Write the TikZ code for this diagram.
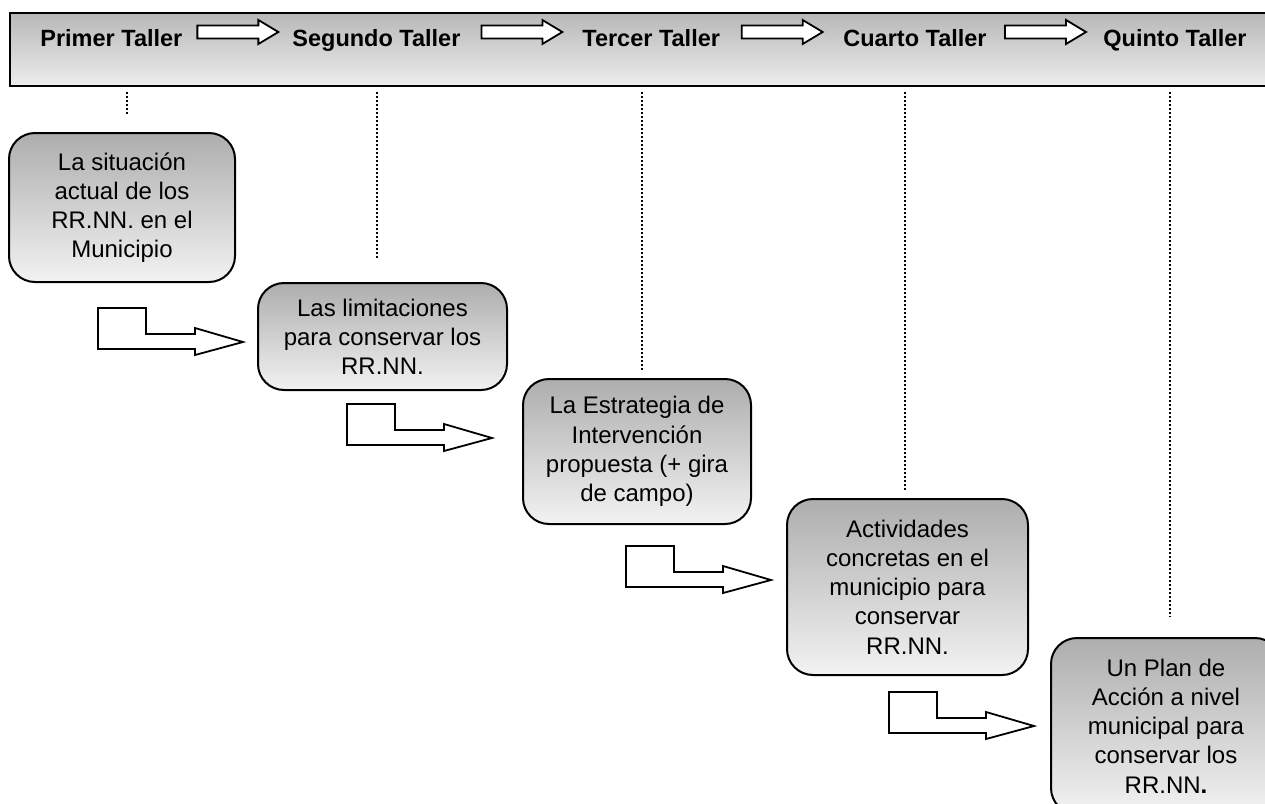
\documentclass[tikz,border=0pt]{standalone}
\usepackage{fontspec}
\setmainfont{Liberation Sans}
\usetikzlibrary{calc}

\tikzset{
  paso/.style={draw, line width=1pt, rounded corners=13pt, top color=black!32, bottom color=black!5, align=center, inner sep=0pt, font=\fontsize{12}{14.6}\selectfont},
  taller/.style={anchor=base west, inner sep=0pt, font=\fontsize{11.75}{14.6}\selectfont\bfseries},
  guia/.style={line width=1.2pt, dash pattern=on 1pt off 1pt},
  hueca/.style={draw, fill=white, line width=0.9pt},
  pics/flecha/.style={code={\draw[hueca] (-40,-6.5) -- (21,-6.5) -- (21,-12) -- (41,0) -- (21,12) -- (21,6.5) -- (-40,6.5) -- cycle;}},
  pics/codo/.style={code={\draw[hueca] (0,0) -- (48,0) -- (48,26) -- (97,26) -- (97,20) -- (145,34) -- (97,47) -- (97,41) -- (0,41) -- cycle;}}
}

\begin{document}
\begin{tikzpicture}[x=0.5pt,y=-0.5pt]
\useasboundingbox (0,0) rectangle (1265,804);
\clip (0,0) rectangle (1265,804);

\node[draw, line width=1pt, top color=black!28, bottom color=black!7, minimum width=645pt, minimum height=36.5pt, inner sep=0pt] (barra) at (655,49.5) {};
\node[taller] (t1) at (40,46) {Primer Taller};
\node[taller] (t2) at (292,46) {Segundo Taller};
\node[taller] (t3) at (582,46) {Tercer Taller};
\node[taller] (t4) at (843,46) {Cuarto Taller};
\node[taller] (t5) at (1103,46) {Quinto Taller};
\foreach \a/\b in {t1/t2, t2/t3, t3/t4, t4/t5}
  \pic[yshift=7pt] at ($(\a.base east)!0.5!(\b.base west)$) {flecha};

\foreach \x/\y in {127/115, 377/260, 642/372, 905/492, 1170/617}
  \draw[guia] (\x,92) -- (\x,\y);

\node[paso, minimum width=113pt, minimum height=74.5pt] (p1) at (122,207.5) {La situación\\actual de los\\RR.NN. en el\\Municipio};
\node[paso, minimum width=124.5pt, minimum height=53.5pt] (p2) at (382.5,336.5) {Las limitaciones\\para conservar los\\RR.NN.};
\node[paso, minimum width=114pt, minimum height=72.5pt] (p3) at (637,451.5) {La Estrategia de\\Intervención\\propuesta (+ gira\\de campo)};
\node[paso, minimum width=120.5pt, minimum height=88pt] (p4) at (907.5,587) {Actividades\\concretas en el\\municipio para\\conservar\\RR.NN.};
\node[paso, minimum width=115pt, minimum height=88pt] (p5) at (1166,726) {Un Plan de\\Acción a nivel\\municipal para\\conservar los\\RR.NN\textbf{.}};

\pic at (98,308) {codo};
\pic at (347,404) {codo};
\pic at (626,546) {codo};
\pic at (889,692) {codo};

\end{tikzpicture}
\end{document}
